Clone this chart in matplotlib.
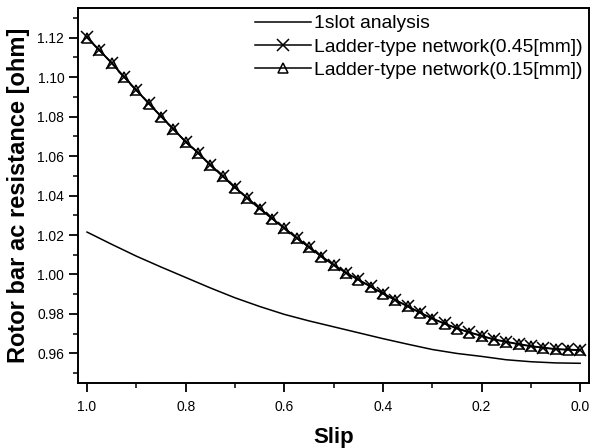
import numpy as np
import matplotlib
matplotlib.use("Agg")
import matplotlib.pyplot as plt
from matplotlib.ticker import MultipleLocator

plt.rcParams['font.family'] = ['Liberation Sans', 'DejaVu Sans']

# 1slot analysis (read at 0.05 slip steps)
slip_1slot = [1.00, 0.95, 0.90, 0.85, 0.80, 0.75, 0.70, 0.65, 0.60, 0.55, 0.50,
              0.45, 0.40, 0.35, 0.30, 0.25, 0.20, 0.15, 0.10, 0.05, 0.00]
r_1slot = [1.0215, 1.0153, 1.0093, 1.0038, 0.9985, 0.9932, 0.9882, 0.9838, 0.9798,
           0.9765, 0.9735, 0.9705, 0.9675, 0.9647, 0.9620, 0.9600, 0.9585, 0.9568,
           0.9558, 0.9552, 0.9550]

# ladder-type network points (0.025 slip steps)
slip_ladder = [1.000, 0.975, 0.950, 0.925, 0.900, 0.875, 0.850, 0.825, 0.800, 0.775,
               0.750, 0.725, 0.700, 0.675, 0.650, 0.625, 0.600, 0.575, 0.550, 0.525,
               0.500, 0.475, 0.450, 0.425, 0.400, 0.375, 0.350, 0.325, 0.300, 0.275,
               0.250, 0.225, 0.200, 0.175, 0.150, 0.125, 0.100, 0.075, 0.050, 0.025,
               0.000]
r_045 = [1.1202, 1.1138, 1.1072, 1.1003, 1.0935, 1.0868, 1.0802, 1.0739, 1.0673, 1.0618,
         1.0557, 1.0499, 1.0441, 1.0388, 1.0335, 1.0285, 1.0236, 1.0186, 1.0140, 1.0093,
         1.0050, 1.0010, 0.9975, 0.9940, 0.9905, 0.9872, 0.9840, 0.9808, 0.9778, 0.9752,
         0.9728, 0.9708, 0.9690, 0.9672, 0.9660, 0.9648, 0.9638, 0.9630, 0.9623, 0.9620,
         0.9618]
r_015 = [1.1200, 1.1136, 1.1070, 1.1001, 1.0933, 1.0866, 1.0800, 1.0737, 1.0671, 1.0616,
         1.0555, 1.0497, 1.0439, 1.0386, 1.0333, 1.0283, 1.0234, 1.0184, 1.0138, 1.0091,
         1.0048, 1.0008, 0.9973, 0.9938, 0.9903, 0.9870, 0.9838, 0.9806, 0.9776, 0.9750,
         0.9726, 0.9706, 0.9688, 0.9670, 0.9658, 0.9646, 0.9636, 0.9628, 0.9621, 0.9618,
         0.9616]

fig = plt.figure(figsize=(5.92, 4.48), dpi=100)
ax = fig.add_axes([0.132, 0.145, 0.863, 0.837])

ax.plot(slip_1slot, r_1slot, color='black', lw=1.1, label='1slot analysis')
ax.plot(slip_ladder, r_045, color='black', lw=1.1, marker='x', ms=8.5, mew=1.1,
        label='Ladder-type network(0.45[mm])')
ax.plot(slip_ladder, r_015, color='black', lw=1.1, marker='^', ms=6.5, mew=1.1,
        mfc='none', label='Ladder-type network(0.15[mm])')

ax.set_xlim(1.018, -0.018)
ax.set_ylim(0.945, 1.135)
ax.xaxis.set_major_locator(MultipleLocator(0.2))
ax.xaxis.set_minor_locator(MultipleLocator(0.1))
ax.yaxis.set_major_locator(MultipleLocator(0.02))
ax.yaxis.set_minor_locator(MultipleLocator(0.01))
ax.xaxis.set_major_formatter(plt.FormatStrFormatter('%.1f'))
ax.yaxis.set_major_formatter(plt.FormatStrFormatter('%.2f'))
ax.tick_params(which='major', direction='out', length=6.5, width=1.3, labelsize=10)
ax.tick_params(which='minor', direction='out', length=3.5, width=1.1)
ax.tick_params(axis='x', pad=6)
for s in ax.spines.values():
    s.set_linewidth(1.4)

ax.set_xlabel('Slip', fontsize=16, fontweight='bold', labelpad=9)
ax.set_ylabel('Rotor bar ac resistance [ohm]', fontsize=17, fontweight='bold', labelpad=5)

ax.legend(loc='upper right', frameon=False, fontsize=13.9, handlelength=2.9,
          borderaxespad=0.1, borderpad=0.25, labelspacing=0.3, handletextpad=0.15)

fig.savefig('out.png', dpi=100)
